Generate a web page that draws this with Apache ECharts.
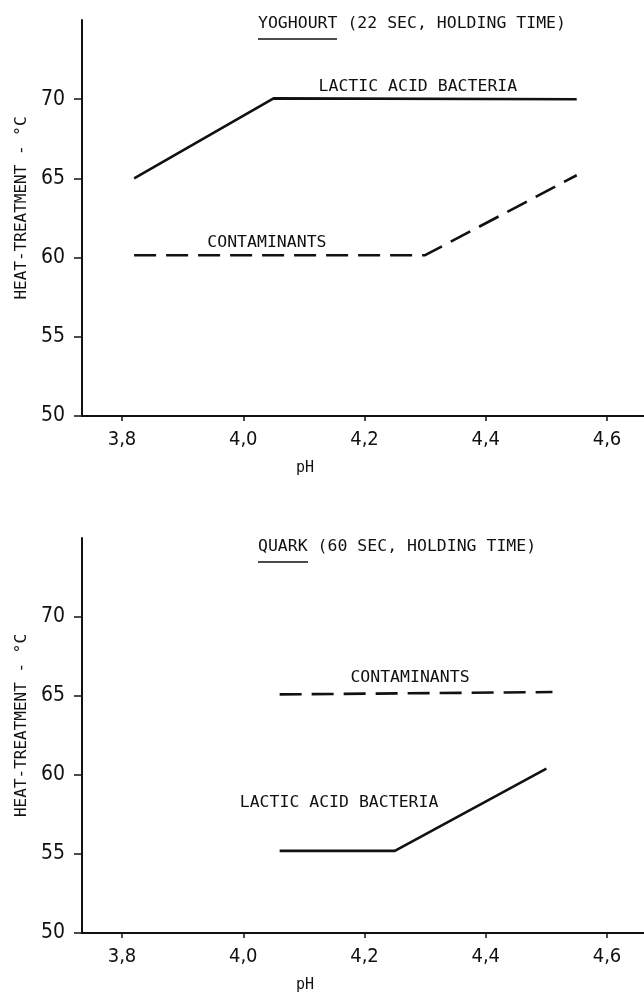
<!DOCTYPE html>
<html>
<head>
<meta charset="utf-8">
<script src="https://cdn.jsdelivr.net/npm/echarts@6/dist/echarts.min.js"></script>
<style>
html,body{margin:0;padding:0;background:#fff;}
#c{width:644px;height:994px;}
</style>
</head>
<body>
<div id="c"></div>
<script>
// ---- data ----
const xTicks = [3.8, 4.0, 4.2, 4.4, 4.6];
const yTicks = [50, 55, 60, 65, 70];

const yogLacticX = [3.82, 4.05, 4.55];
const yogLacticY = [65.0, 70.05, 70.0];
const yogContamX = [3.82, 4.30, 4.55];
const yogContamY = [60.15, 60.15, 65.2];

const quarkContamX = [4.06, 4.51];
const quarkContamY = [65.1, 65.25];
const quarkLacticX = [4.06, 4.25, 4.50];
const quarkLacticY = [55.2, 55.2, 60.4];

const titleTop = 'YOGHOURT (22 SEC, HOLDING TIME)';
const titleBottom = 'QUARK (60 SEC, HOLDING TIME)';
const yName = 'HEAT-TREATMENT - °C';
const xName = 'pH';
// label anchor points (data space)
const lblTopLactic = [4.288, 70.76];
const lblTopContam = [4.039, 60.95];
const lblBotContam = [4.275, 66.15];
const lblBotLactic = [4.158, 58.26];

const zip = (xs, ys) => xs.map((x, i) => [x, ys[i]]);

const numFont = '"DejaVu Sans Condensed","Liberation Sans Narrow","DejaVu Sans",sans-serif';
const monoFont = '"DejaVu Sans Mono","Liberation Mono",monospace';

function xAxis(gi) {
  return {
    gridIndex: gi, type: 'value', min: 3.734, max: 4.661,
    name: xName, nameLocation: 'middle', nameGap: 45,
    nameTextStyle: {fontFamily: monoFont, fontSize: 15, color: '#111', padding: [0, 116, 0, 0]},
    axisLine: {show: true, lineStyle: {color: '#111', width: 2}},
    axisTick: {show: true, length: 5, customValues: xTicks, lineStyle: {color: '#111', width: 1.5}},
    axisLabel: {customValues: xTicks, margin: 14, fontFamily: numFont, fontSize: 20, color: '#111',
      formatter: v => v.toFixed(1).replace('.', ',')},
    splitLine: {show: false}
  };
}
function yAxis(gi) {
  return {
    gridIndex: gi, type: 'value', min: 50, max: 75,
    name: yName, nameLocation: 'middle', nameGap: 50, nameRotate: 90,
    nameTextStyle: {fontFamily: monoFont, fontSize: 16, color: '#111', padding: [0, 0, 0, 20]},
    axisLine: {show: true, lineStyle: {color: '#111', width: 2}},
    axisTick: {show: true, length: 8, customValues: yTicks, lineStyle: {color: '#111', width: 1.5}},
    axisLabel: {customValues: yTicks, margin: 17, fontFamily: numFont, fontSize: 21, color: '#111'},
    splitLine: {show: false}
  };
}
function textPoint(coord, text) {
  return {coord: coord, value: text, symbolSize: 0,
    label: {show: true, position: 'inside', formatter: text, fontFamily: monoFont, fontSize: 16.5, color: '#111'}};
}
function line(gi, data, dashed, labels) {
  return {
    type: 'line', xAxisIndex: gi, yAxisIndex: gi, data: data, symbol: 'none',
    lineStyle: {color: '#111', width: 2.6, type: dashed ? [22, 10] : 'solid'},
    silent: true, animation: false,
    markPoint: labels ? {symbol: 'circle', symbolSize: 0, animation: false, data: labels} : undefined
  };
}

const chart = echarts.init(document.getElementById('c'), null, {renderer: 'canvas'});
chart.setOption({
  backgroundColor: '#fff',
  animation: false,
  title: [
    {text: titleTop, left: 258, top: 15, padding: 0, textStyle: {fontFamily: monoFont, fontSize: 16.5, fontWeight: 'normal', color: '#111'}},
    {text: titleBottom, left: 258, top: 538, padding: 0, textStyle: {fontFamily: monoFont, fontSize: 16.5, fontWeight: 'normal', color: '#111'}}
  ],
  graphic: [
    {type: 'line', shape: {x1: 258, y1: 39, x2: 337, y2: 39}, style: {stroke: '#111', lineWidth: 1.5}},
    {type: 'line', shape: {x1: 258, y1: 562, x2: 308, y2: 562}, style: {stroke: '#111', lineWidth: 1.5}}
  ],
  grid: [
    {left: 82, right: 0, top: 20, height: 396},
    {left: 82, right: 0, top: 538, height: 396}
  ],
  xAxis: [xAxis(0), xAxis(1)],
  yAxis: [yAxis(0), yAxis(1)],
  series: [
    line(0, zip(yogLacticX, yogLacticY), false, [textPoint(lblTopLactic, 'LACTIC ACID BACTERIA')]),
    line(0, zip(yogContamX, yogContamY), true, [textPoint(lblTopContam, 'CONTAMINANTS')]),
    line(1, zip(quarkContamX, quarkContamY), true, [textPoint(lblBotContam, 'CONTAMINANTS')]),
    line(1, zip(quarkLacticX, quarkLacticY), false, [textPoint(lblBotLactic, 'LACTIC ACID BACTERIA')])
  ]
});
</script>
</body>
</html>
